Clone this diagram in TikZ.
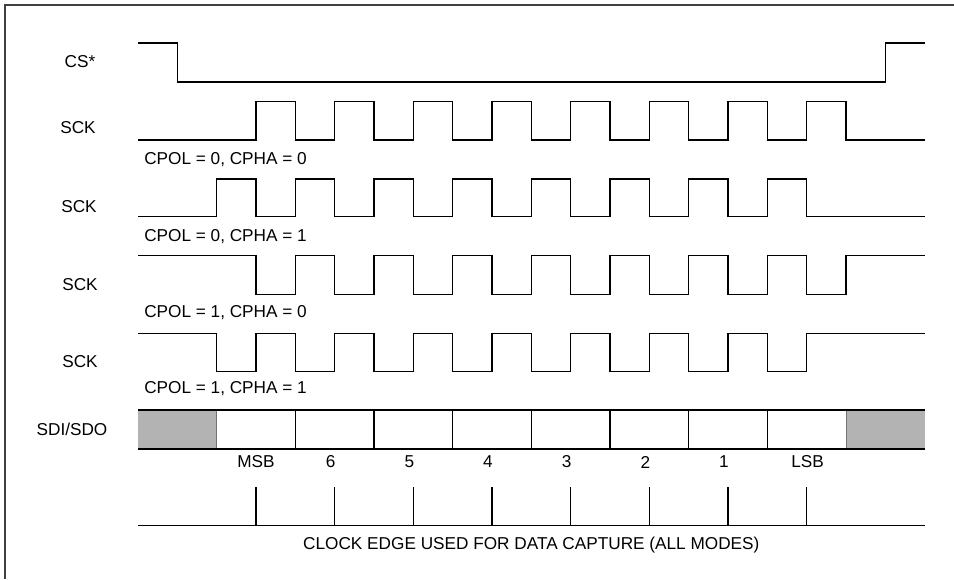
\documentclass[tikz,border=0pt]{standalone}
\usepackage{fontspec}
\setmainfont{Liberation Sans}
\usepackage{tikz}
\usetikzlibrary{positioning}
\definecolor{slotgray}{RGB}{179,179,179}
\tikzset{
  wave/.style={line width=1.15pt,line join=miter},
  frame/.style={line width=1.3pt,draw=black!75},
  sig/.style={font=\fontsize{12.9}{15}\selectfont,inner sep=0pt},
  mode/.style={sig,anchor=west},
  slot/.style={fill=slotgray},
}
% x position of half-period #1
\newcommand{\tx}[1]{138+39.33*(#1)}
% clock: base level #1, pulse level #2, first edge #3
\newcommand{\clkwave}[3]{%
  \draw[wave] ({\tx{0}},#1) foreach \k in {0,...,7}
    { -- ({\tx{#3+2*\k}},#1) -- ({\tx{#3+2*\k}},#2)
      -- ({\tx{#3+1+2*\k}},#2) -- ({\tx{#3+1+2*\k}},#1) }
    -- ({\tx{20}},#1);}

\begin{document}
\begin{tikzpicture}[x=0.75pt,y=-0.75pt]
    \useasboundingbox (0,0) rectangle (954,579);
    \draw[frame] (5,579) -- (5,5) -- (954,5);

    % signal names
    \node[sig] (cs)   at (80,62)  {CS*};
    \node[sig] (sck1) at (78,128) {SCK};
    \node[sig] (sck2) at (79,207) {SCK};
    \node[sig] (sck3) at (80,285) {SCK};
    \node[sig] (sck4) at (80,362) {SCK};
    \node[sig] (sdo)  at (72,429) {SDI/SDO};

    % chip select
    \draw[wave] ({\tx{0}},43) -- ({\tx{1}},43) -- ({\tx{1}},82)
        -- ({\tx{19}},82) -- ({\tx{19}},43) -- ({\tx{20}},43);

    % the four clock modes
    \clkwave{140}{101.7}{3}
    \clkwave{216.7}{179}{2}
    \clkwave{255.7}{294.3}{3}
    \clkwave{333.3}{371.7}{2}

    \node[mode] (m00) at (144,160)   {CPOL = 0, CPHA = 0};
    \node[mode] (m01) at (144,236.7) {CPOL = 0, CPHA = 1};
    \node[mode] (m10) at (144,313)   {CPOL = 1, CPHA = 0};
    \node[mode] (m11) at (144,389)   {CPOL = 1, CPHA = 1};

    % data line
    \fill[slot] ({\tx{0}},410) rectangle ({\tx{2}},449);
    \fill[slot] ({\tx{18}},410) rectangle ({\tx{20}},449);
    \draw[line width=0.6pt,draw=black!55] ({\tx{2}},410) -- ({\tx{2}},449);
    \draw[line width=0.6pt,draw=black!55] ({\tx{18}},410) -- ({\tx{18}},449);
    \draw[wave] ({\tx{0}},410) -- ({\tx{20}},410);
    \draw[wave] ({\tx{0}},449) -- ({\tx{20}},449);
    \foreach \k in {4,6,...,16}
        \draw[wave] ({\tx{\k}},410) -- ({\tx{\k}},449);

    \foreach \lbl/\k/\dx in {MSB/3/0, 6/5/-4, 5/7/-4, 4/9/-4, 3/11/-4, 2/13/-4, 1/15/-4, LSB/17/1}
        \node[sig] (bit\k) at ({\tx{\k}+\dx},462) {\lbl};

    % capture edges
    \foreach \k in {3,5,...,17}
        \draw[wave] ({\tx{\k}},487.3) -- ({\tx{\k}},525.7);
    \draw[wave] ({\tx{0}},525.7) -- ({\tx{20}},525.7);
    \node[sig] (edge) at ({\tx{10}},545) {CLOCK EDGE USED FOR DATA CAPTURE (ALL MODES)};
\end{tikzpicture}
\end{document}
